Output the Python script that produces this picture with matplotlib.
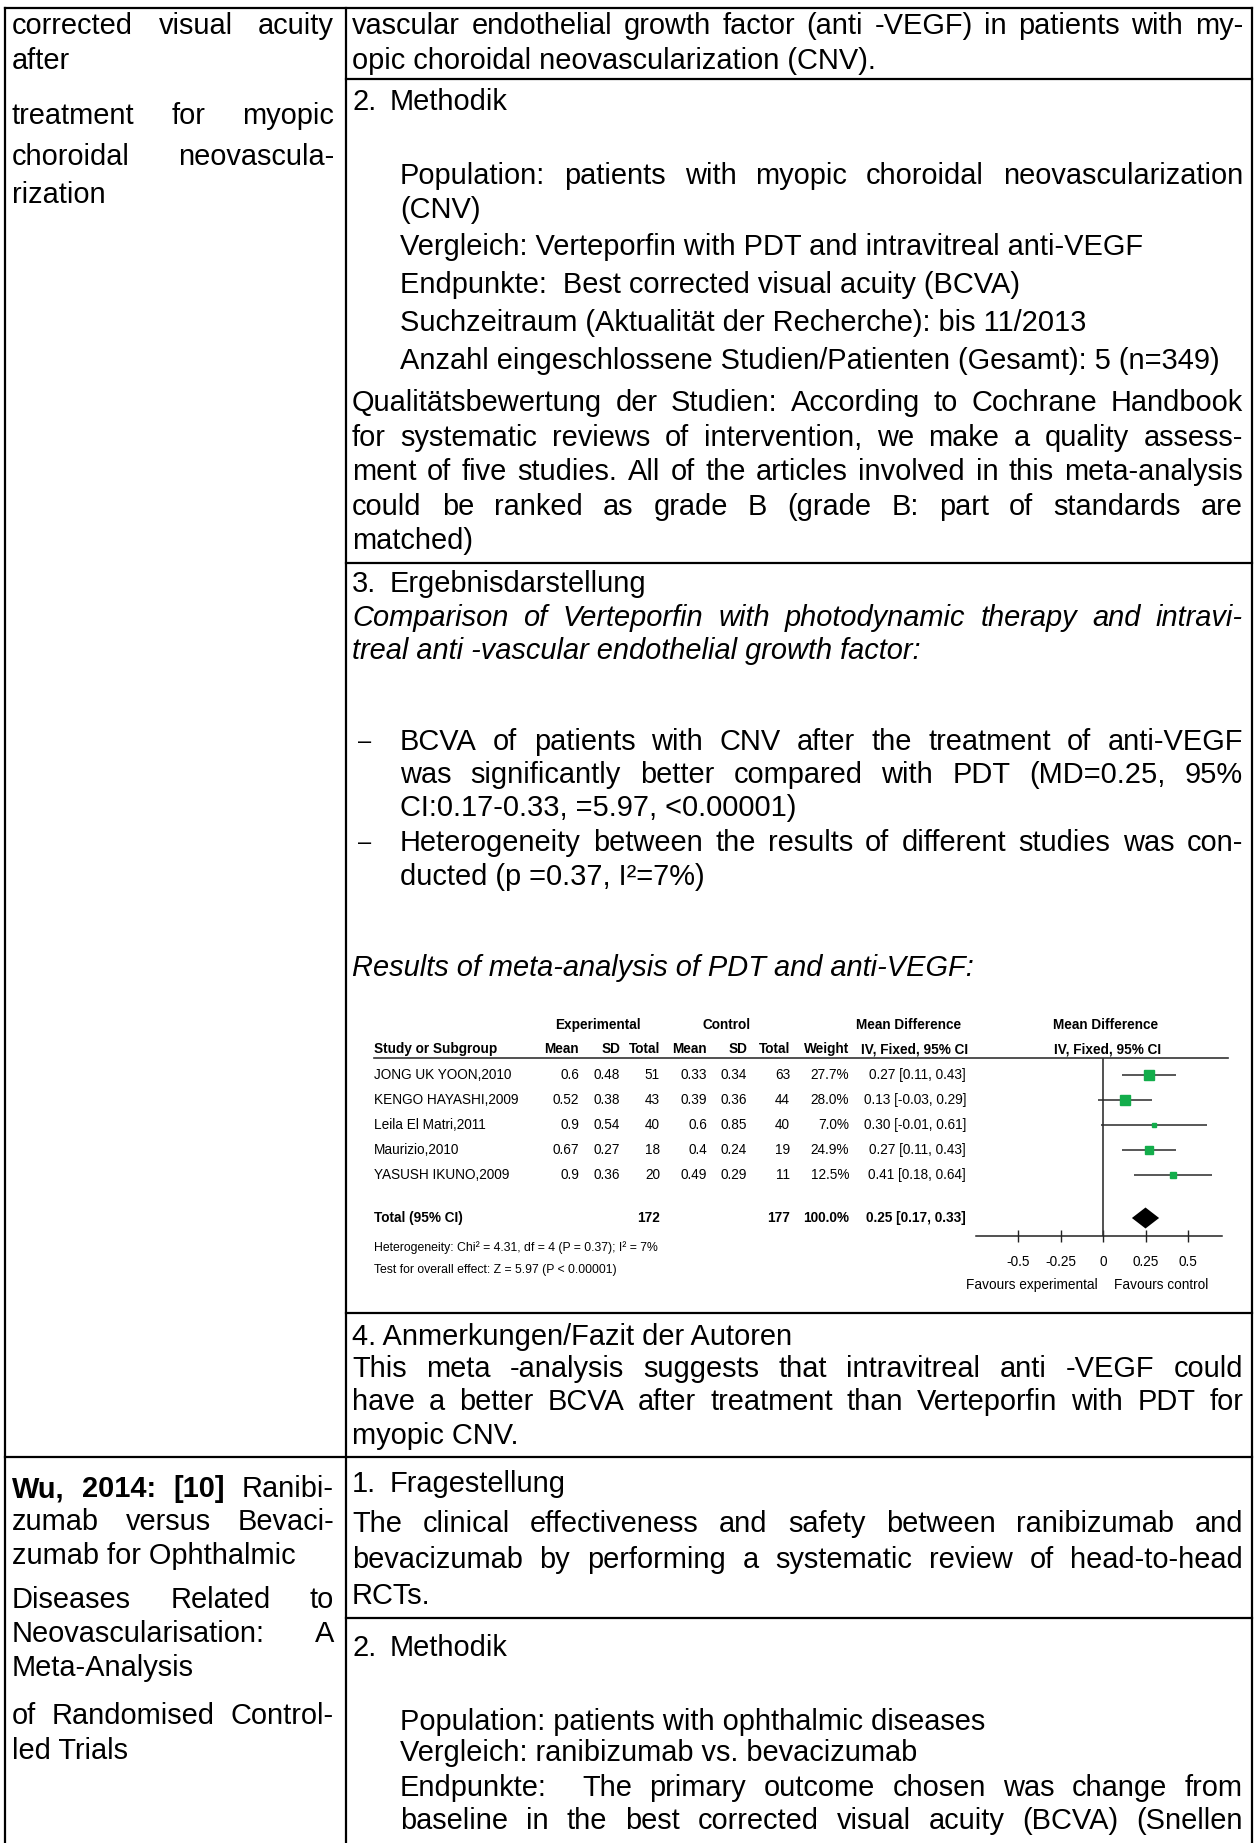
import matplotlib.pyplot as plt
import numpy as np
from matplotlib import font_manager

# forest plot data: PDT vs anti-VEGF, BCVA
studies = ["JONG UK YOON,2010", "KENGO HAYASHI,2009", "Leila El Matri,2011",
           "Maurizio,2010", "YASUSH IKUNO,2009"]
exp_mean = [0.6, 0.52, 0.9, 0.67, 0.9]
exp_sd = [0.48, 0.38, 0.54, 0.27, 0.36]
exp_n = [51, 43, 40, 18, 20]
ctl_mean = [0.33, 0.39, 0.6, 0.4, 0.49]
ctl_sd = [0.34, 0.36, 0.85, 0.24, 0.29]
ctl_n = [63, 44, 40, 19, 11]
weight = [27.7, 28.0, 7.0, 24.9, 12.5]
md = [0.27, 0.13, 0.30, 0.27, 0.41]
ci_lo = [0.11, -0.03, -0.01, 0.11, 0.18]
ci_hi = [0.43, 0.29, 0.61, 0.43, 0.64]
total_md, total_lo, total_hi = 0.25, 0.17, 0.33
total_exp_n, total_ctl_n, total_weight = 172, 177, 100.0
ticks = [-0.5, -0.25, 0, 0.25, 0.5]
tick_labels = ["-0.5", "-0.25", "0", "0.25", "0.5"]
heterogeneity = "Heterogeneity: Chi\u00b2 = 4.31, df = 4 (P = 0.37); I\u00b2 = 7%"
overall = "Test for overall effect: Z = 5.97 (P < 0.00001)"

W, H = 1255, 1843
fig = plt.figure(figsize=(W / 100, H / 100), dpi=100)
ax = fig.add_axes([0, 0, 1, 1])
ax.set_xlim(0, W)
ax.set_ylim(H, 0)
ax.axis("off")
renderer = fig.canvas.get_renderer()

installed = {f.name for f in font_manager.fontManager.ttflist}
BODY = "Liberation Sans" if "Liberation Sans" in installed else "DejaVu Sans"
if "Liberation Sans Narrow" in installed:
    SMALL, SMALL_SIZE = "Liberation Sans Narrow", 11.6
else:
    SMALL, SMALL_SIZE = BODY, 9.8
BODY_SIZE = 20.9


def width_of(s, **kw):
    t = ax.text(0, 0, s, **kw)
    w = t.get_window_extent(renderer).width
    t.remove()
    return w


def put(x0, y, s, x1=None, bold=0, **kw):
    style = dict(family=BODY, fontsize=BODY_SIZE, va="center", ha="left", color="black")
    style.update(kw)
    if x1 is None and bold == 0:
        ax.text(x0, y, s, **style)
        return
    words = s.split(" ")
    styles = []
    for i in range(len(words)):
        st = dict(style)
        if i < bold:
            st["fontweight"] = "bold"
        styles.append(st)
    widths = [width_of(w, **st) for w, st in zip(words, styles)]
    if x1 is None:
        gap = width_of("a a", **style) - width_of("aa", **style)
    else:
        gap = (x1 - x0 - sum(widths)) / max(len(words) - 1, 1)
    x = x0
    for w, st, wd in zip(words, styles, widths):
        ax.text(x, y, w, **st)
        x += wd + gap


def heading(num, title, y, x0=352, tab=38):
    put(x0, y, num)
    put(x0 + tab, y, title)


# table grid
L, DIV, R = 5, 346, 1252
lw = 1.6
ax.plot([L, R], [8, 8], color="black", lw=lw)
ax.plot([L, L], [8, H], color="black", lw=lw)
ax.plot([R, R], [8, H], color="black", lw=lw)
ax.plot([DIV, DIV], [8, H], color="black", lw=lw)
for y in (79, 563, 1313, 1618):
    ax.plot([DIV, R], [y, y], color="black", lw=lw)
ax.plot([L, R], [1457, 1457], color="black", lw=lw)

LX, LX1 = 12, 334
RX, RI, RX1 = 352, 400, 1243

# left column
put(LX, 26, "corrected visual acuity", LX1)
put(LX, 61, "after")
put(LX, 116, "treatment for myopic", LX1)
put(LX, 157, "choroidal neovascula-", LX1)
put(LX, 195, "rization")
put(LX, 1489, "Wu, 2014: [10] Ranibi-", LX1, bold=3)
put(LX, 1522, "zumab versus Bevaci-", LX1)
put(LX, 1556, "zumab for Ophthalmic")
put(LX, 1600, "Diseases Related to", LX1)
put(LX, 1634, "Neovascularisation: A", LX1)
put(LX, 1668, "Meta-Analysis")
put(LX, 1716, "of Randomised Control-", LX1)
put(LX, 1751, "led Trials")

# right column, first study
put(RX, 26, "vascular endothelial growth factor (anti -VEGF) in patients with my-", RX1)
put(RX, 61, "opic choroidal neovascularization (CNV).")
heading("2.", "Methodik", 102)
put(RI, 176, "Population: patients with myopic choroidal neovascularization", RX1)
put(RI, 210, "(CNV)")
put(RI, 247, "Vergleich: Verteporfin with PDT and intravitreal anti-VEGF")
put(RI, 285, "Endpunkte:  Best corrected visual acuity (BCVA)")
put(RI, 323, "Suchzeitraum (Aktualit\u00e4t der Recherche): bis 11/2013")
put(RI, 361, "Anzahl eingeschlossene Studien/Patienten (Gesamt): 5 (n=349)")
put(RX, 403, "Qualit\u00e4tsbewertung der Studien: According to Cochrane Handbook", RX1)
put(RX, 438, "for systematic reviews of intervention, we make a quality assess-", RX1)
put(RX, 472, "ment of five studies. All of the articles involved in this meta-analysis", RX1)
put(RX, 507, "could be ranked as grade B (grade B: part of standards are", RX1)
put(RX, 541, "matched)")
heading("3.", "Ergebnisdarstellung", 584)
put(RX, 618, "Comparison of Verteporfin with photodynamic therapy and intravi-", RX1, style="italic")
put(RX, 651, "treal anti -vascular endothelial growth factor:", style="italic")
for y in (742, 843):
    put(358, y, "\u2013", fontsize=17)
put(RI, 742, "BCVA of patients with CNV after the treatment of anti-VEGF", RX1)
put(RI, 775, "was significantly better compared with PDT (MD=0.25, 95%", RX1)
put(RI, 808, "CI:0.17-0.33, =5.97, <0.00001)")
put(RI, 843, "Heterogeneity between the results of different studies was con-", RX1)
put(RI, 877, "ducted (p =0.37, I\u00b2=7%)")
put(RX, 968, "Results of meta-analysis of PDT and anti-VEGF:", style="italic")

# forest plot, table part
row_y0, row_dy = 1075, 25
total_row = 5.72


def row_px(i):
    return row_y0 + row_dy * i


fs = dict(family=SMALL, fontsize=SMALL_SIZE, va="center", color="black")
fb = dict(fs, fontweight="bold")
ax.text(598, 1025, "Experimental", ha="center", **fb)
ax.text(727, 1025, "Control", ha="center", **fb)
ax.text(909, 1025, "Mean Difference", ha="center", **fb)
ax.text(1106, 1025, "Mean Difference", ha="center", **fb)
ax.text(374, 1049, "Study or Subgroup", ha="left", **fb)
head_cols = [("Mean", 579), ("SD", 620), ("Total", 660), ("Mean", 707),
             ("SD", 747), ("Total", 790), ("Weight", 849), ("IV, Fixed, 95% CI", 968)]
for label, x in head_cols:
    ax.text(x, 1049, label, ha="right", **fb)
ax.text(1108, 1049, "IV, Fixed, 95% CI", ha="center", **fb)
ax.plot([374, 1228], [1058, 1058], color="#333333", lw=1.2)

for i, name in enumerate(studies):
    y = row_px(i)
    ax.text(374, y, name, ha="left", **fs)
    cells = [f"{exp_mean[i]:g}", f"{exp_sd[i]:g}", f"{exp_n[i]}",
             f"{ctl_mean[i]:g}", f"{ctl_sd[i]:g}", f"{ctl_n[i]}",
             f"{weight[i]:.1f}%", f"{md[i]:.2f} [{ci_lo[i]:.2f}, {ci_hi[i]:.2f}]"]
    for s, x in zip(cells, [579, 620, 660, 707, 747, 790, 849, 966]):
        ax.text(x, y, s, ha="right", **fs)

yt = row_px(total_row)
ax.text(374, yt, "Total (95% CI)", ha="left", **fb)
ax.text(660, yt, f"{total_exp_n}", ha="right", **fb)
ax.text(790, yt, f"{total_ctl_n}", ha="right", **fb)
ax.text(849, yt, f"{total_weight:.1f}%", ha="right", **fb)
ax.text(966, yt, f"{total_md:.2f} [{total_lo:.2f}, {total_hi:.2f}]", ha="right", **fb)
ax.text(374, 1248, heterogeneity, ha="left", **dict(fs, fontsize=SMALL_SIZE * 0.9))
ax.text(374, 1270, overall, ha="left", **dict(fs, fontsize=SMALL_SIZE * 0.9))

# forest plot, graphic part
px0, px1 = 975.5, 1222.0
py0, py1 = 1058, 1236
fx = fig.add_axes([px0 / W, 1 - py1 / H, (px1 - px0) / W, (py1 - py0) / H])
fx.set_xlim(-0.75, 0.70)
fx.set_ylim((py1 - row_y0) / row_dy, (py0 - row_y0) / row_dy)
fx.patch.set_alpha(0)
for side in ("top", "right", "left"):
    fx.spines[side].set_visible(False)
fx.spines["bottom"].set_linewidth(1.1)
fx.spines["bottom"].set_color("#222222")
fx.set_yticks([])
fx.set_xticks(ticks)
fx.set_xticklabels(tick_labels, family=SMALL, fontsize=SMALL_SIZE)
fx.tick_params(axis="x", direction="inout", length=9, width=1.0, color="#222222", pad=9)
fx.axvline(0, color="#333333", lw=1.2)

rows = np.arange(len(studies))
fx.hlines(rows, ci_lo, ci_hi, color="#2a2a2a", lw=1.1)
green = "#13ad4b"
for i in rows:
    side = 1.75 * np.sqrt(weight[i])
    fx.plot(md[i], i, marker="s", ms=side * 0.72, color=green, mec=green, lw=0)
fx.fill([total_lo, total_md, total_hi, total_md],
        [total_row, total_row - 0.42, total_row, total_row + 0.42], color="black", lw=0)

ax.text(1098, 1285, "Favours experimental", ha="right", **fs)
ax.text(1114, 1285, "Favours control", ha="left", **fs)

# right column, remaining sections
put(RX, 1337, "4. Anmerkungen/Fazit der Autoren")
put(RX, 1369, "This meta -analysis suggests that intravitreal anti -VEGF could", RX1)
put(RX, 1402, "have a better BCVA after treatment than Verteporfin with PDT for", RX1)
put(RX, 1436, "myopic CNV.")
heading("1.", "Fragestellung", 1484)
put(RX, 1524, "The clinical effectiveness and safety between ranibizumab and", RX1)
put(RX, 1560, "bevacizumab by performing a systematic review of head-to-head", RX1)
put(RX, 1596, "RCTs.")
heading("2.", "Methodik", 1648)
put(RI, 1722, "Population: patients with ophthalmic diseases")
put(RI, 1753, "Vergleich: ranibizumab vs. bevacizumab")
put(RI, 1788, "Endpunkte:  The primary outcome chosen was change from", RX1)
put(RI, 1821, "baseline in the best corrected visual acuity (BCVA) (Snellen", RX1)

fig.savefig("out.png", dpi=100, facecolor="white")
